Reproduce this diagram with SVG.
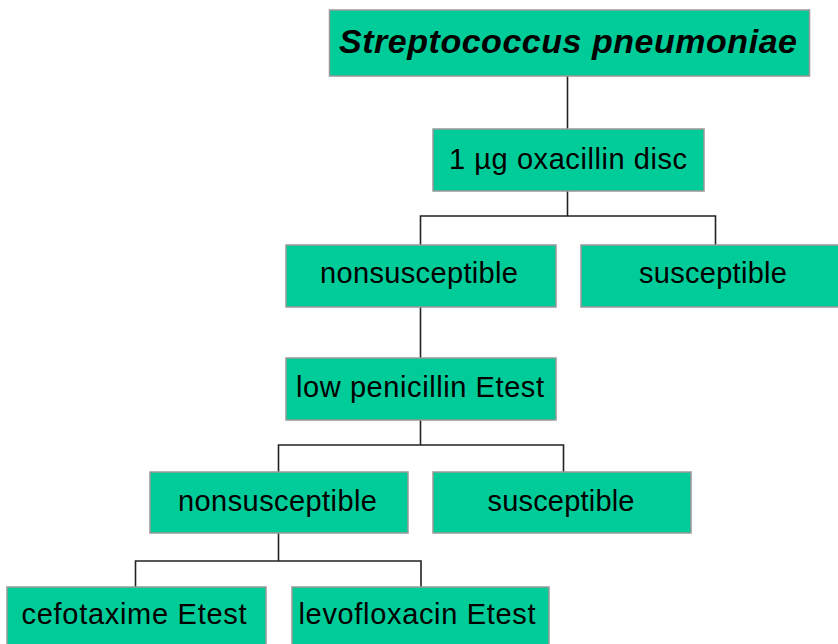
<svg xmlns="http://www.w3.org/2000/svg" width="838" height="644" viewBox="0 0 838 644">
<style>
.box{fill:#00CC99;stroke:#999999;stroke-width:1.5}
.t{font-family:"Liberation Sans",Arial,sans-serif;font-size:29px;fill:#000;text-anchor:middle}
.title{font-family:"Liberation Sans",Arial,sans-serif;font-size:34px;font-weight:bold;font-style:italic;fill:#000;text-anchor:middle}
.c{fill:none;stroke:#222;stroke-width:1.6}
</style>
<rect width="838" height="644" fill="#fff"/>
<g id="connectors">
<path class="c" d="M567.5,76V129"/>
<path class="c" d="M567.5,191V216M420.5,245V216H715.5V245"/>
<path class="c" d="M420.5,307V358"/>
<path class="c" d="M420.5,420V445M278.5,472V445H563.5V472"/>
<path class="c" d="M278.5,533V561M135.5,587V561H421V587"/>
</g>
<g id="n1"><rect class="box" x="329.5" y="10" width="480" height="66"/><text class="title" x="568" y="53" textLength="458" lengthAdjust="spacing">Streptococcus pneumoniae</text></g>
<g id="n2"><rect class="box" x="433" y="129" width="271" height="62"/><text class="t" x="568" y="169" textLength="238" lengthAdjust="spacing">1 µg oxacillin disc</text></g>
<g id="n3"><rect class="box" x="286" y="245" width="270" height="62"/><text class="t" x="419" y="283" textLength="198" lengthAdjust="spacing">nonsusceptible</text></g>
<g id="n4"><rect class="box" x="581" y="245" width="268" height="62"/><text class="t" x="713" y="283" textLength="148" lengthAdjust="spacing">susceptible</text></g>
<g id="n5"><rect class="box" x="286" y="358" width="270" height="62"/><text class="t" x="420" y="397" textLength="248" lengthAdjust="spacing">low penicillin Etest</text></g>
<g id="n6"><rect class="box" x="150" y="472" width="258" height="61"/><text class="t" x="277.5" y="511" textLength="199" lengthAdjust="spacing">nonsusceptible</text></g>
<g id="n7"><rect class="box" x="433" y="472" width="258" height="61"/><text class="t" x="561" y="511" textLength="147" lengthAdjust="spacing">susceptible</text></g>
<g id="n8"><rect class="box" x="7" y="587" width="259" height="70"/><text class="t" x="134" y="624" textLength="225" lengthAdjust="spacing">cefotaxime Etest</text></g>
<g id="n9"><rect class="box" x="292" y="587" width="257" height="70"/><text class="t" x="417" y="624" textLength="237" lengthAdjust="spacing">levofloxacin Etest</text></g>
</svg>
